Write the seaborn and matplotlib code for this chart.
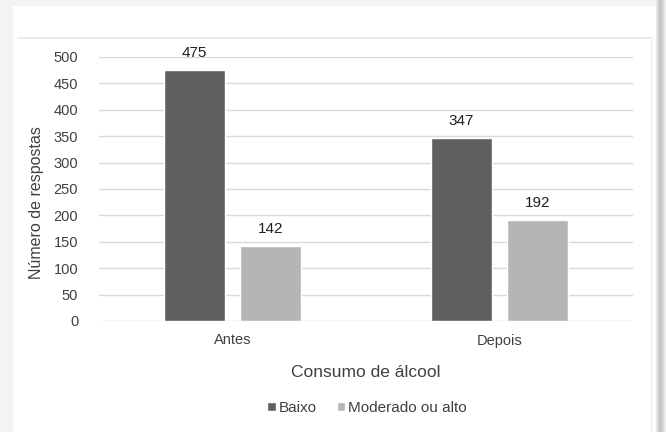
import matplotlib
matplotlib.use("Agg")
import matplotlib.pyplot as plt
import seaborn as sns
import pandas as pd
from matplotlib.patches import Rectangle
from matplotlib.lines import Line2D

categories = ["Antes", "Depois"]
series_names = ["Baixo", "Moderado ou alto"]
baixo = [475, 347]
moderado = [142, 192]
yticks = [0, 50, 100, 150, 200, 250, 300, 350, 400, 450, 500]

df = pd.DataFrame({
    "Consumo": categories * 2,
    "Nivel": [series_names[0]] * 2 + [series_names[1]] * 2,
    "Valor": baixo + moderado,
})

sns.set_theme(style="white")
plt.rcParams["font.family"] = ["Liberation Sans", "DejaVu Sans"]
text_color = "#404040"

W, H = 666, 432
fig = plt.figure(figsize=(W / 100, H / 100), dpi=100, facecolor="white")

def px_rect(x0, y0, x1, y1, color, z=-10):
    fig.patches.append(Rectangle((x0 / W, 1 - y1 / H), (x1 - x0) / W, (y1 - y0) / H,
                                 transform=fig.transFigure, facecolor=color,
                                 edgecolor="none", zorder=z))

# page background / shadow
px_rect(0, 0, 13, H, "#f3f3f3")
px_rect(0, 0, W, 6, "#f3f3f3")
shades = ["#e8e8e8", "#dcdcdc", "#d0d0d0", "#c8c8c8", "#c4c4c4", "#c8c8c8", "#d2d2d2", "#dedede", "#e8e8e8", "#f0f0f0"]
for i, c in enumerate(shades):
    px_rect(656 + i, 0, 657 + i, H, c)
px_rect(13, 6, 656, H, "white", z=-9)
fig.lines.append(Line2D([18 / W, 651 / W], [1 - 37.5 / H, 1 - 37.5 / H], transform=fig.transFigure,
                        color="#ececec", lw=1.5, zorder=-8))
fig.lines.append(Line2D([651 / W, 651 / W], [1 - 37.5 / H, 0], transform=fig.transFigure,
                        color="#f0f0f0", lw=1.0, zorder=-8))

ax = fig.add_axes([99 / W, 1 - 321 / H, (633 - 99) / W, (321 - 57) / H])
ax.set_facecolor("none")

sns.barplot(data=df, x="Consumo", y="Valor", hue="Nivel", order=categories,
            hue_order=series_names, palette=["#5f5f5f", "#b5b5b7"],
            width=0.57, gap=0.21, ax=ax, legend=False, saturation=1)

for cont in ax.containers:
    ax.bar_label(cont, padding=7, fontsize=11, color="#202020")

ax.set_ylim(0, 500)
ax.set_xlim(-0.5, 1.5)
ax.set_yticks(yticks)
ax.set_yticklabels([str(v) for v in yticks])
ax.grid(axis="y", color="#d9d9d9", lw=1)
ax.set_axisbelow(True)
for s in ["top", "right", "left", "bottom"]:
    ax.spines[s].set_visible(False)
ax.tick_params(axis="y", length=0, pad=15, labelsize=10.5, labelcolor=text_color)
ax.tick_params(axis="x", length=0, pad=9, labelsize=10.5, labelcolor=text_color)

ax.set_xlabel("Consumo de álcool", fontsize=12.5, color=text_color)
ax.xaxis.set_label_coords(0.5, -0.165)
ax.set_ylabel("Número de respostas", fontsize=11.5, color=text_color)
ax.yaxis.set_label_coords(-0.103, 0.45)

handles = [Rectangle((0, 0), 1, 1, facecolor=c) for c in ["#5f5f5f", "#b5b5b7"]]
fig.legend(handles, series_names, loc="center", bbox_to_anchor=(367 / W, 1 - 408 / H),
           ncol=2, frameon=False, fontsize=11, handlelength=0.55, handleheight=0.55,
           handletextpad=0.2, columnspacing=1.3, labelcolor=text_color)

fig.savefig("out.png", dpi=100, facecolor="white")
